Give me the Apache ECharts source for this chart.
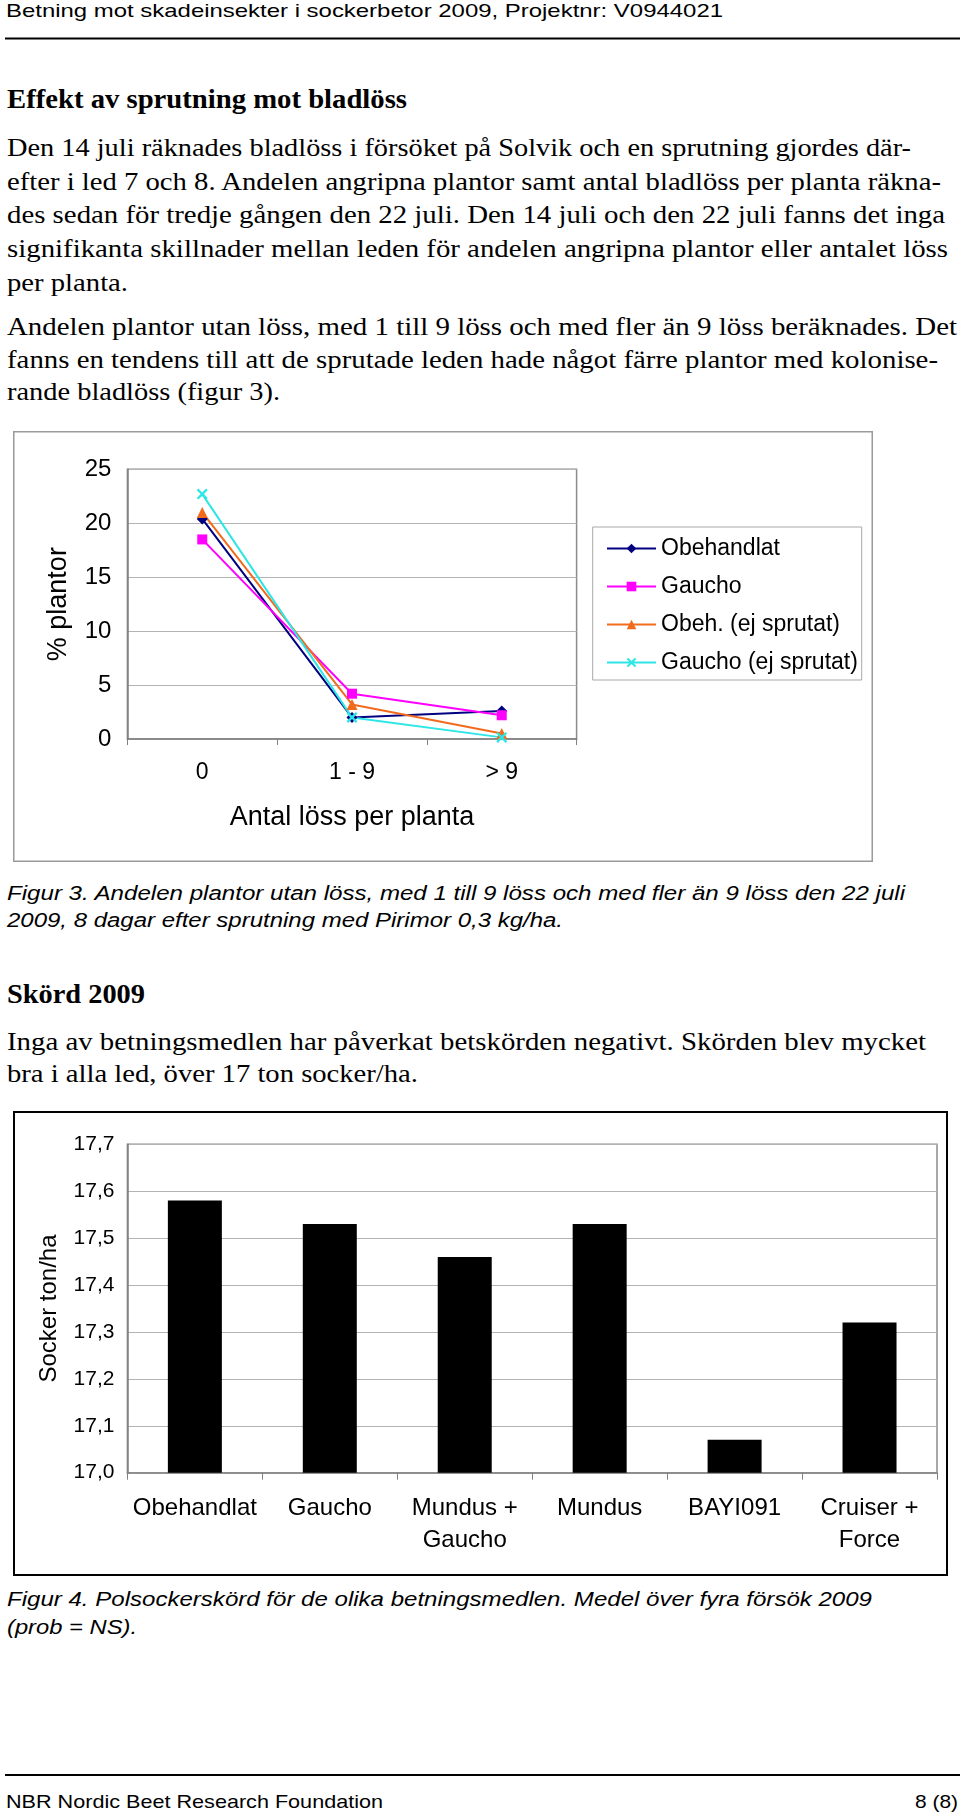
<!DOCTYPE html>
<html>
<head>
<meta charset="utf-8">
<title>Betning mot skadeinsekter i sockerbetor 2009</title>
<script src="https://cdn.jsdelivr.net/npm/echarts@6.0.0/dist/echarts.min.js"></script>
<style>
html, body { margin: 0; padding: 0; background: #fff; }
#page { position: relative; width: 960px; height: 1817px; overflow: hidden; }
#txt { position: absolute; left: 0; top: 0; }
#chart3 { position: absolute; left: 13px; top: 431px; width: 860px; height: 431px; }
#chart4 { position: absolute; left: 13px; top: 1111px; width: 936px; height: 465px; }
</style>
</head>
<body>
<div id="page">
  <svg id="txt" width="960" height="1817"></svg>
  <div id="chart3"></div>
  <div id="chart4"></div>
</div>
<script>
// figur 3 - andel plantor per antal löss
var lossKlasser = ['0', '1 - 9', '> 9'];
var obehandlat = [20.4, 2.0, 2.6];
var gaucho = [18.5, 4.2, 2.2];
var obehEj = [21.0, 3.2, 0.5];
var gauchoEj = [22.7, 2.0, 0.15];
var plantorTicks = [0, 5, 10, 15, 20, 25];

// figur 4 - polsockerskörd
var sockerLed = ['Obehandlat', 'Gaucho', 'Mundus +\nGaucho', 'Mundus', 'BAYI091', 'Cruiser +\nForce'];
var sockerSkord = [17.58, 17.53, 17.46, 17.53, 17.07, 17.32];
var sockerTicks = [17.0, 17.1, 17.2, 17.3, 17.4, 17.5, 17.6, 17.7];

var sans = "'Liberation Sans', Arial, sans-serif";
var serif = "'Liberation Serif', 'Times New Roman', serif";

// ---- sidans text ----
var NS = 'http://www.w3.org/2000/svg';
var svg = document.getElementById('txt');

function rad(t, x, y, x2, font, size, weight, style) {
  var el = document.createElementNS(NS, 'text');
  el.setAttribute('x', x);
  el.setAttribute('y', y);
  el.style.fontFamily = font;
  el.style.fontSize = size + 'px';
  if (weight) el.style.fontWeight = weight;
  if (style) el.style.fontStyle = style;
  el.setAttribute('textLength', x2 - x);
  el.setAttribute('lengthAdjust', 'spacingAndGlyphs');
  el.textContent = t;
  svg.appendChild(el);
}
function linje(y) {
  var el = document.createElementNS(NS, 'rect');
  el.setAttribute('x', 5);
  el.setAttribute('y', y - 1);
  el.setAttribute('width', 955);
  el.setAttribute('height', 2);
  el.setAttribute('fill', '#000');
  svg.appendChild(el);
}

rad('Betning mot skadeinsekter i sockerbetor 2009, Projektnr: V0944021', 6, 17, 723, sans, 19);
linje(38.5);

rad('Effekt av sprutning mot bladlöss', 7, 108.3, 407, serif, 28, 'bold');

rad('Den 14 juli räknades bladlöss i försöket på Solvik och en sprutning gjordes där-', 7, 155.7, 911, serif, 26);
rad('efter i led 7 och 8. Andelen angripna plantor samt antal bladlöss per planta räkna-', 7, 189.5, 941, serif, 26);
rad('des sedan för tredje gången den 22 juli. Den 14 juli och den 22 juli fanns det inga', 7, 223.2, 945, serif, 26);
rad('signifikanta skillnader mellan leden för andelen angripna plantor eller antalet löss', 7, 256.9, 948, serif, 26);
rad('per planta.', 7, 290.7, 128, serif, 26);

rad('Andelen plantor utan löss, med 1 till 9 löss och med fler än 9 löss beräknades. Det', 7, 335, 957, serif, 26);
rad('fanns en tendens till att de sprutade leden hade något färre plantor med kolonise-', 7, 368.3, 938, serif, 26);
rad('rande bladlöss (figur 3).', 7, 400, 280, serif, 26);

rad('Figur 3. Andelen plantor utan löss, med 1 till 9 löss och med fler än 9 löss den 22 juli', 7, 900, 905, sans, 20, null, 'italic');
rad('2009, 8 dagar efter sprutning med Pirimor 0,3 kg/ha.', 7, 927.3, 563, sans, 20, null, 'italic');

rad('Skörd 2009', 7, 1002.7, 145, serif, 27, 'bold');
rad('Inga av betningsmedlen har påverkat betskörden negativt. Skörden blev mycket', 7, 1050, 926, serif, 26);
rad('bra i alla led, över 17 ton socker/ha.', 7, 1082.3, 418, serif, 26);

rad('Figur 4. Polsockerskörd för de olika betningsmedlen. Medel över fyra försök 2009', 7, 1606, 872, sans, 20, null, 'italic');
rad('(prob = NS).', 7, 1634, 137, sans, 20, null, 'italic');

linje(1775);
rad('NBR Nordic Beet Research Foundation', 6, 1808.3, 383, sans, 19);
rad('8 (8)', 915, 1808.3, 958, sans, 19);

// ---- figur 3 ----
var krysset = 'path://M0,1.5L1.5,0L5,3.5L8.5,0L10,1.5L6.5,5L10,8.5L8.5,10L5,6.5L1.5,10L0,8.5L3.5,5Z';

function serie(namn, data, farg, symbol, storlek) {
  return {
    name: namn,
    type: 'line',
    data: data,
    symbol: symbol,
    symbolSize: storlek,
    itemStyle: { color: farg },
    lineStyle: { color: farg, width: 2 }
  };
}

var chart3 = echarts.init(document.getElementById('chart3'));
chart3.setOption({
  animation: false,
  textStyle: { fontFamily: sans },
  grid: {
    left: 114.4, top: 38.3, width: 449.2, height: 269.7,
    show: true, borderColor: '#8c8c8c', borderWidth: 1.5,
    containLabel: false, outerBoundsMode: 'none'
  },
  legend: {
    orient: 'vertical', left: 588, top: 100.5,
    itemWidth: 49, itemHeight: 12, itemGap: 14,
    textStyle: { fontSize: 23, lineHeight: 24, color: '#000', fontFamily: sans },
    data: ['Obehandlat', 'Gaucho', 'Obeh. (ej sprutat)', 'Gaucho (ej sprutat)']
  },
  xAxis: {
    type: 'category', data: lossKlasser, boundaryGap: true,
    axisLine: { lineStyle: { color: '#808080', width: 1.5 } },
    axisTick: { show: true, length: 6, lineStyle: { color: '#808080' } },
    axisLabel: { fontSize: 23, color: '#000', margin: 22, fontFamily: sans },
    splitLine: { show: false },
    name: 'Antal löss per planta', nameLocation: 'middle', nameGap: 65,
    nameTextStyle: { fontSize: 27, color: '#000', fontFamily: sans }
  },
  yAxis: {
    type: 'value',
    min: plantorTicks[0], max: plantorTicks[plantorTicks.length - 1],
    interval: plantorTicks[1] - plantorTicks[0],
    axisLine: { show: true, lineStyle: { color: '#808080', width: 1.5 } },
    axisTick: { show: false },
    splitLine: { show: true, lineStyle: { color: '#b4b4b4', width: 1.2 } },
    axisLabel: { fontSize: 24, color: '#000', margin: 16, fontFamily: sans },
    name: '% plantor', nameLocation: 'middle', nameGap: 55, nameRotate: 90,
    nameTextStyle: { fontSize: 27, color: '#000', fontFamily: sans }
  },
  graphic: [
    { type: 'rect', silent: true, shape: { x: 0.75, y: 0.75, width: 858.5, height: 429.5 },
      style: { fill: 'none', stroke: '#9a9a9a', lineWidth: 1.5 } },
    { type: 'rect', silent: true, shape: { x: 579.7, y: 96, width: 269, height: 153 },
      style: { fill: 'none', stroke: '#a8a8a8', lineWidth: 1 } }
  ],
  series: [
    serie('Obehandlat', obehandlat, '#000080', 'diamond', 11),
    serie('Gaucho', gaucho, '#ff00ff', 'rect', 10),
    serie('Obeh. (ej sprutat)', obehEj, '#f26b1d', 'triangle', 11),
    serie('Gaucho (ej sprutat)', gauchoEj, '#2ee6e6', krysset, 11)
  ]
});

// ---- figur 4 ----
var chart4 = echarts.init(document.getElementById('chart4'));
chart4.setOption({
  animation: false,
  textStyle: { fontFamily: sans },
  grid: {
    left: 114.4, top: 33.3, width: 809.6, height: 328.4,
    show: true, borderColor: '#8c8c8c', borderWidth: 1.5,
    containLabel: false, outerBoundsMode: 'none'
  },
  xAxis: {
    type: 'category', data: sockerLed, boundaryGap: true,
    axisLine: { lineStyle: { color: '#808080', width: 1.5 } },
    axisTick: { show: true, length: 7, lineStyle: { color: '#808080' } },
    axisLabel: { fontSize: 24, lineHeight: 31.6, color: '#000', margin: 20, interval: 0, fontFamily: sans },
    splitLine: { show: false }
  },
  yAxis: {
    type: 'value',
    min: sockerTicks[0], max: sockerTicks[sockerTicks.length - 1],
    interval: 0.1,
    axisLine: { show: true, lineStyle: { color: '#808080', width: 1.5 } },
    axisTick: { show: false },
    splitLine: { show: true, lineStyle: { color: '#b4b4b4', width: 1.2 } },
    axisLabel: {
      fontSize: 21, color: '#000', margin: 13, fontFamily: sans,
      formatter: function (v) { return v.toFixed(1).replace('.', ','); }
    },
    name: 'Socker ton/ha', nameLocation: 'middle', nameGap: 66, nameRotate: 90,
    nameTextStyle: { fontSize: 24, color: '#000', fontFamily: sans }
  },
  graphic: [
    { type: 'rect', silent: true, shape: { x: 1, y: 1, width: 933, height: 463 },
      style: { fill: 'none', stroke: '#000', lineWidth: 2 } }
  ],
  series: [{
    type: 'bar',
    data: sockerSkord,
    barWidth: 54,
    itemStyle: { color: '#000' }
  }]
});
</script>
</body>
</html>
